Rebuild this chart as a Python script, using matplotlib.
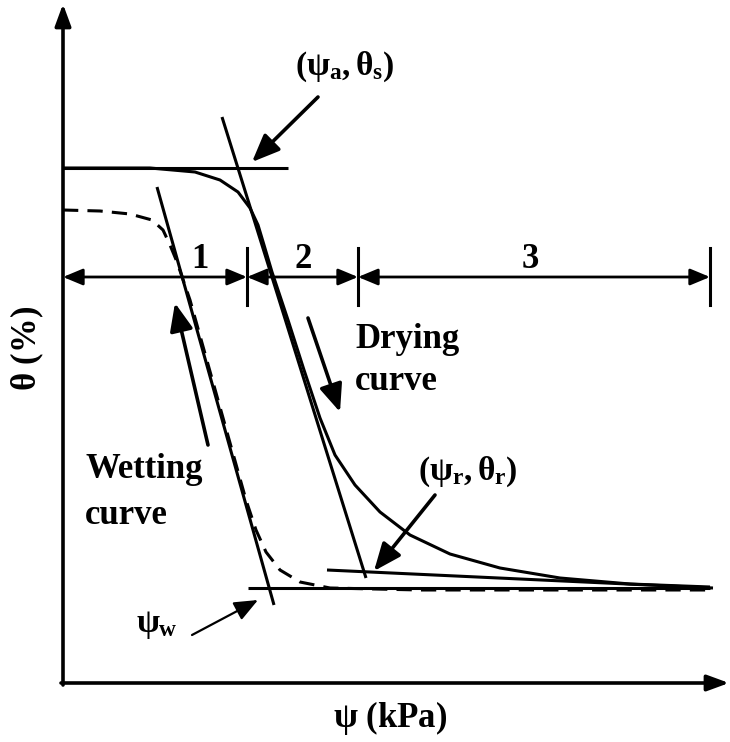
import matplotlib.pyplot as plt

plt.rcParams['font.family'] = ['Liberation Serif', 'DejaVu Serif']
plt.rcParams['font.weight'] = 'bold'
plt.rcParams['mathtext.fontset'] = 'custom'
plt.rcParams['mathtext.rm'] = 'Liberation Serif:bold'
plt.rcParams['mathtext.it'] = 'Liberation Serif:bold'
plt.rcParams['mathtext.bf'] = 'Liberation Serif:bold'

# schematic, coordinates in picture units (y grows downward)
drying_x = [63, 150, 195, 220, 238, 250, 258, 264, 272, 288, 304, 320, 335, 355, 380, 410, 450, 500, 560, 630, 710]
drying_y = [168, 168, 172, 180, 192, 208, 225, 245, 272, 320, 370, 418, 455, 485, 512, 535, 554, 568, 578, 584, 587]

wetting_x = [63, 100, 130, 152, 163, 170, 177, 190, 204, 218, 232, 246, 256, 266, 280, 300, 330, 420, 550, 710]
wetting_y = [210, 211, 214, 220, 230, 245, 262, 300, 350, 400, 450, 500, 530, 552, 570, 582, 588, 590, 590, 590]

tangents = {
    'top': ([63, 288], [168, 168]),
    'drying': ([222, 366], [117, 578]),
    'wetting': ([157, 274], [187, 605]),
    'bottom': ([248, 710], [588, 588]),
    'residual': ([327, 713], [570, 588]),
}

dim_x = [63, 247, 358, 710]
dim_y = 277
dim_labels = ['1', '2', '3']
dim_label_x = [200, 303, 530]

fig = plt.figure(figsize=(7.3, 7.42), dpi=100)
ax = fig.add_axes([0, 0, 1, 1])
ax.set_xlim(0, 730)
ax.set_ylim(742, 0)
ax.axis('off')

lw = 2.2
fs = 25
# axes with arrows
ax.annotate('', xy=(63, 4), xytext=(63, 685),
            arrowprops=dict(arrowstyle='-|>,head_length=0.6,head_width=0.22', lw=2.6,
                            color='k', mutation_scale=22, shrinkA=0, shrinkB=0))
ax.annotate('', xy=(729, 683), xytext=(61, 683),
            arrowprops=dict(arrowstyle='-|>,head_length=0.6,head_width=0.22', lw=2.6,
                            color='k', mutation_scale=22, shrinkA=0, shrinkB=0))

ax.plot(drying_x, drying_y, color='k', lw=lw, solid_capstyle='butt')
ax.plot(wetting_x, wetting_y, color='k', lw=lw, ls=(0, (5, 3)))
for name, (tx, ty) in tangents.items():
    ax.plot(tx, ty, color='k', lw=lw, solid_capstyle='butt')

# dimension line with ticks
for x0, x1 in zip(dim_x[:-1], dim_x[1:]):
    ax.annotate('', xy=(x1, dim_y), xytext=(x0, dim_y),
                arrowprops=dict(arrowstyle='<|-|>,head_length=0.6,head_width=0.25', lw=2.0,
                                color='k', mutation_scale=20, shrinkA=0, shrinkB=0))
for x in dim_x[1:]:
    ax.plot([x, x], [248, 305], color='k', lw=lw)
for xc, lab in zip(dim_label_x, dim_labels):
    ax.text(xc, 259, lab, fontsize=fs, ha='center', va='center', fontweight='bold')

# pointer arrows
ap = dict(arrowstyle='-|>,head_length=0.6,head_width=0.25', lw=2.6, color='k',
          mutation_scale=28, shrinkA=0, shrinkB=0)
ax.annotate('', xy=(252, 162), xytext=(318, 97), arrowprops=ap)
ax.annotate('', xy=(374, 571), xytext=(435, 495), arrowprops=ap)
ax.annotate('', xy=(258, 600), xytext=(192, 635),
            arrowprops=dict(arrowstyle='-|>,head_length=0.6,head_width=0.25', lw=1.6,
                            color='k', mutation_scale=24, shrinkA=0, shrinkB=0))
ax.annotate('', xy=(340, 412), xytext=(308, 318), arrowprops=ap)
ax.annotate('', xy=(175, 303), xytext=(208, 445), arrowprops=ap)

ax.text(345, 67, r'$(\psi_{\mathrm{a}},\theta_{\mathrm{s}})$', fontsize=24, ha='center', va='center')
ax.text(468, 472, r'$(\psi_{\mathrm{r}},\theta_{\mathrm{r}})$', fontsize=24, ha='center', va='center')
ax.text(157, 625, r'$\psi_{\mathrm{w}}$', fontsize=24, ha='center', va='center')

ax.text(355, 340, 'Drying', fontsize=fs, ha='left', va='center', fontweight='bold')
ax.text(355, 381, 'curve', fontsize=fs, ha='left', va='center', fontweight='bold')
ax.text(85, 470, 'Wetting', fontsize=fs, ha='left', va='center', fontweight='bold')
ax.text(85, 515, 'curve', fontsize=fs, ha='left', va='center', fontweight='bold')

ax.text(27, 348, r'$\theta$ (%)', fontsize=fs, rotation=90, ha='center', va='center')
ax.text(390, 718, r'$\psi$ (kPa)', fontsize=fs, ha='center', va='center')

fig.savefig('out.png', dpi=100)
